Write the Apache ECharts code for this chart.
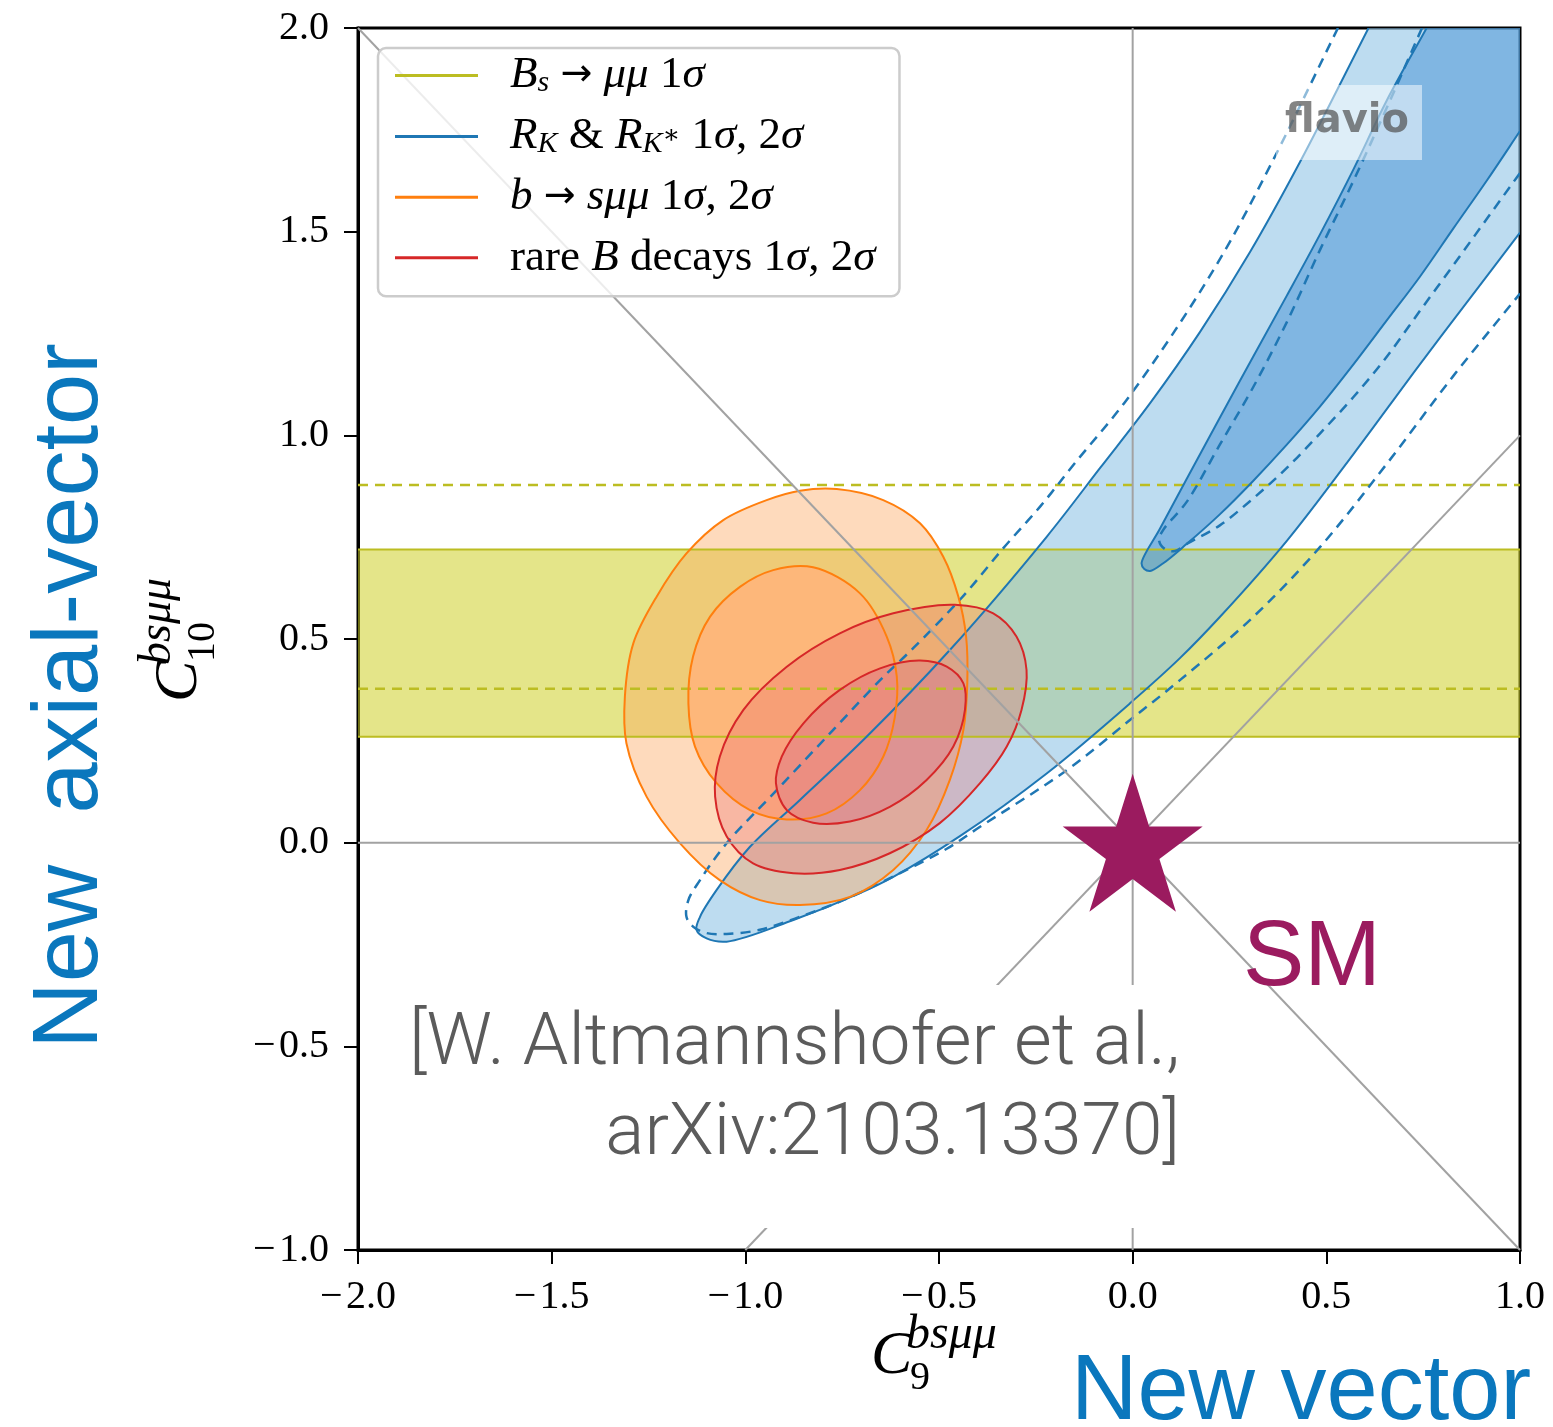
<!DOCTYPE html>
<html>
<head>
<meta charset="utf-8">
<title>C9 – C10 fit</title>
<script src="https://cdn.jsdelivr.net/npm/echarts@6.0.0/dist/echarts.min.js"></script>
<style>
  html, body { margin: 0; padding: 0; background: #ffffff; }
  #chart { width: 1553px; height: 1427px; }
</style>
</head>
<body>
<div id="chart"></div>
<script>
// ---------------- axes ----------------
const xRange = [-2, 1];          // C9
const yRange = [-1, 2];          // C10
const tickStep = 0.5;

// ---------------- B_s -> mu mu, 1 sigma ----------------
const bsBand = [0.26, 0.72];        // filled band
const bsBandOld = [0.378, 0.878];   // dashed band

// ---------------- R_K & R_K* (solid = filled contours, dashed = outline only) ----------------
const rk2Sigma = [
  [0.609, 2.0], [0.432, 1.671], [0.303, 1.450], [0.174, 1.254], [0.045, 1.079],
  [-0.084, 0.920], [-0.222, 0.751], [-0.472, 0.473], [-0.687, 0.260], [-0.859, 0.105],
  [-0.988, -0.010], [-1.074, -0.116], [-1.117, -0.182], [-1.126, -0.214], [-1.100, -0.235],
  [-1.048, -0.243], [-0.876, -0.190], [-0.704, -0.124], [-0.618, -0.084], [-0.446, 0.016],
  [-0.222, 0.170], [-0.007, 0.342], [0.122, 0.453], [0.225, 0.554], [0.398, 0.741],
  [0.570, 0.954], [0.742, 1.175], [0.914, 1.390], [1.0, 1.498]
];
const rk1Sigma = [
  [0.759, 2.0], [0.656, 1.822], [0.570, 1.653], [0.484, 1.494],
  [0.398, 1.343], [0.311, 1.193], [0.225, 1.043], [0.139, 0.892], [0.070, 0.770],
  [0.023, 0.686], [0.030, 0.672], [0.045, 0.667], [0.079, 0.686], [0.139, 0.733],
  [0.225, 0.806], [0.311, 0.888], [0.398, 0.977], [0.484, 1.071], [0.570, 1.174],
  [0.656, 1.282], [0.742, 1.390], [0.828, 1.508], [0.914, 1.625], [1.0, 1.747]
];
const rk2SigmaOld = [
  [0.530, 2.0], [0.360, 1.671], [0.236, 1.450], [0.107, 1.254], [-0.022, 1.079],
  [-0.149, 0.932], [-0.239, 0.825], [-0.334, 0.723], [-0.437, 0.606], [-0.566, 0.478],
  [-0.652, 0.399], [-0.773, 0.277], [-0.919, 0.129], [-1.048, -0.001], [-1.117, -0.092],
  [-1.147, -0.141], [-1.152, -0.182], [-1.135, -0.206], [-1.100, -0.222], [-1.048, -0.224],
  [-0.962, -0.214], [-0.859, -0.182], [-0.747, -0.141], [-0.618, -0.083], [-0.480, -0.015],
  [-0.394, 0.039], [-0.170, 0.178], [-0.007, 0.301], [0.122, 0.399], [0.311, 0.554],
  [0.484, 0.726], [0.656, 0.930], [0.828, 1.146], [1.0, 1.348]
];
const rk1SigmaOld = [
  [0.747, 2.0], [0.656, 1.804], [0.570, 1.625], [0.484, 1.456], [0.398, 1.278],
  [0.311, 1.118], [0.225, 0.977], [0.139, 0.836], [0.079, 0.768], [0.068, 0.743],
  [0.083, 0.721], [0.109, 0.716], [0.139, 0.733], [0.225, 0.779], [0.311, 0.845],
  [0.398, 0.920], [0.484, 1.005], [0.570, 1.094], [0.656, 1.193], [0.742, 1.306],
  [0.828, 1.418], [0.914, 1.531], [1.0, 1.644]
];

// ---------------- b -> s mu mu ----------------
const bsmm2Sigma = [
  [-0.764, 0.868], [-0.644, 0.841], [-0.549, 0.784], [-0.489, 0.702], [-0.450, 0.604],
  [-0.430, 0.506], [-0.427, 0.391], [-0.437, 0.277], [-0.472, 0.154], [-0.532, 0.031],
  [-0.618, -0.067], [-0.730, -0.133], [-0.859, -0.153], [-0.962, -0.141], [-1.066, -0.092],
  [-1.169, -0.001], [-1.255, 0.113], [-1.307, 0.244], [-1.311, 0.358], [-1.289, 0.490],
  [-1.229, 0.604], [-1.152, 0.710], [-1.057, 0.792], [-0.945, 0.841], [-0.859, 0.864]
];
const bsmm1Sigma = [
  [-0.825, 0.676], [-0.704, 0.612], [-0.635, 0.506], [-0.609, 0.408], [-0.614, 0.309],
  [-0.644, 0.211], [-0.704, 0.129], [-0.790, 0.072], [-0.893, 0.057], [-0.988, 0.080],
  [-1.074, 0.146], [-1.130, 0.236], [-1.147, 0.342], [-1.135, 0.457], [-1.091, 0.555],
  [-1.014, 0.628], [-0.928, 0.669]
];

// ---------------- all rare B decays ----------------
const rare2Sigma = [
  [-0.459, 0.584], [-0.360, 0.563], [-0.300, 0.506], [-0.274, 0.424], [-0.287, 0.326],
  [-0.325, 0.236], [-0.394, 0.146], [-0.498, 0.048], [-0.627, -0.026], [-0.756, -0.067],
  [-0.876, -0.075], [-0.980, -0.051], [-1.048, 0.015], [-1.078, 0.113], [-1.066, 0.211],
  [-1.005, 0.326], [-0.893, 0.432], [-0.756, 0.514], [-0.618, 0.563]
];
const rare1Sigma = [
  [-0.549, 0.447], [-0.480, 0.432], [-0.437, 0.391], [-0.433, 0.326], [-0.463, 0.236],
  [-0.532, 0.154], [-0.627, 0.088], [-0.730, 0.052], [-0.825, 0.049], [-0.893, 0.080],
  [-0.921, 0.146], [-0.906, 0.211], [-0.850, 0.293], [-0.756, 0.375], [-0.652, 0.428]
];

// ---------------- Standard Model point and guide lines ----------------
const smPoint = [0, 0];
const refLines = [
  [[-2, 0], [1, 0]],
  [[0, -1], [0, 2]],
  [[-2, 2], [1, -1]],
  [[-1, -1], [1, 1]]
];

// ---------------- styling ----------------
const OLIVE = '#bcbd22', BLUE = '#1f77b4', ORANGE = '#ff7f0e', RED = '#d62728';
const SERIF = '"Liberation Serif", "DejaVu Serif", serif';
const SANS = '"Liberation Sans", Arial, sans-serif';
const SM_COLOR = '#9b1b5f';
const LABEL_BLUE = '#0a77bd';
const DASH = [10, 7];

const fmt = v => (v < 0 ? '\u2212\u200a' : '') + Math.abs(v).toFixed(1);

// centripetal Catmull-Rom curve through pixel points, as SVG path data
function curvePath(p, closed) {
  const n = p.length;
  const at = i => closed ? p[((i % n) + n) % n] : p[Math.max(0, Math.min(n - 1, i))];
  const sq = (a, b) => Math.sqrt(Math.hypot(b[0] - a[0], b[1] - a[1]));
  const f = q => q[0].toFixed(2) + ' ' + q[1].toFixed(2);
  let d = 'M' + f(p[0]);
  const segs = closed ? n : n - 1;
  for (let i = 0; i < segs; i++) {
    const p0 = at(i - 1), p1 = at(i), p2 = at(i + 1), p3 = at(i + 2);
    const d1 = sq(p0, p1), d2 = sq(p1, p2), d3 = sq(p2, p3);
    let c1, c2;
    if (d1 < 1e-6) {
      c1 = [p1[0] + (p2[0] - p1[0]) / 3, p1[1] + (p2[1] - p1[1]) / 3];
    } else {
      const k = 3 * d1 * (d1 + d2), w = 2 * d1 * d1 + 3 * d1 * d2 + d2 * d2;
      c1 = [0, 1].map(j => (d1 * d1 * p2[j] - d2 * d2 * p0[j] + w * p1[j]) / k);
    }
    if (d3 < 1e-6) {
      c2 = [p2[0] + (p1[0] - p2[0]) / 3, p2[1] + (p1[1] - p2[1]) / 3];
    } else {
      const k = 3 * d3 * (d3 + d2), w = 2 * d3 * d3 + 3 * d3 * d2 + d2 * d2;
      c2 = [0, 1].map(j => (d3 * d3 * p1[j] - d2 * d2 * p3[j] + w * p2[j]) / k);
    }
    d += 'C' + f(c1) + ' ' + f(c2) + ' ' + f(p2);
  }
  if (closed) d += 'Z';
  return d;
}

// filled region of a contour (open contours are closed through an axis corner)
function fillSeries(name, pts, fill, z, corner) {
  return {
    type: 'custom', name: name, z: z, silent: true, clip: true,
    data: pts, encode: { x: 0, y: 1 },
    renderItem(params, api) {
      if (params.dataIndex !== 0) return;
      const p = pts.map(d => api.coord(d));
      let d;
      if (corner) {
        const c = api.coord(corner);
        d = curvePath(p, false) + 'L' + c[0].toFixed(2) + ' ' + c[1].toFixed(2) + 'Z';
      } else {
        d = curvePath(p, true);
      }
      return { type: 'path', shape: { pathData: d }, style: { fill: fill, stroke: null } };
    }
  };
}

// outline of a contour
function lineSeries(name, pts, color, closed, dash, width) {
  return {
    type: 'custom', name: name, z: 5, silent: true, clip: true,
    data: pts, encode: { x: 0, y: 1 },
    renderItem(params, api) {
      if (params.dataIndex !== 0) return;
      const p = pts.map(d => api.coord(d));
      return {
        type: 'path', shape: { pathData: curvePath(p, closed) },
        style: { fill: null, stroke: color, lineWidth: width || 2, lineDash: dash || null }
      };
    }
  };
}

const topRight = [xRange[1], yRange[1]];

const series = [
  // B_s -> mu mu band (fill below, edges and dashed band above the contour fills)
  {
    type: 'custom', name: 'Bs', z: 1, silent: true, clip: true,
    data: [[xRange[0], bsBand[0]], [xRange[1], bsBand[1]]],
    renderItem(params, api) {
      if (params.dataIndex !== 0) return;
      const a = api.coord([xRange[0], bsBand[0]]);
      const b = api.coord([xRange[1], bsBand[1]]);
      return { type: 'rect', shape: { x: a[0], y: b[1], width: b[0] - a[0], height: a[1] - b[1] },
               style: { fill: 'rgba(205,208,40,0.55)' } };
    }
  },
  {
    type: 'custom', name: 'Bs', z: 5, silent: true, clip: true,
    data: [[xRange[0], bsBandOld[0]], [xRange[1], bsBandOld[1]]],
    renderItem(params, api) {
      if (params.dataIndex !== 0) return;
      const ln = (y, dashed) => {
        const a = api.coord([xRange[0], y]), b = api.coord([xRange[1], y]);
        return { type: 'line', shape: { x1: a[0], y1: a[1], x2: b[0], y2: b[1] },
                 style: { stroke: OLIVE, lineWidth: dashed ? 2.5 : 2, lineDash: dashed ? DASH : null } };
      };
      return { type: 'group', children: [
        ln(bsBand[0], false), ln(bsBand[1], false), ln(bsBandOld[0], true), ln(bsBandOld[1], true)
      ] };
    }
  },
  // R_K & R_K*
  fillSeries('RK', rk2Sigma, 'rgba(139,194,229,0.57)', 2, topRight),
  fillSeries('RK', rk1Sigma, 'rgba(37,125,205,0.4)', 2, topRight),
  // b -> s mu mu
  fillSeries('bsmm', bsmm2Sigma, 'rgba(253,167,96,0.42)', 3),
  fillSeries('bsmm', bsmm1Sigma, 'rgba(255,180,122,0.85)', 3),
  // all rare B decays
  fillSeries('rare', rare2Sigma, 'rgba(236,112,112,0.33)', 4),
  fillSeries('rare', rare1Sigma, 'rgba(220,120,135,0.45)', 4),
  // outlines
  lineSeries('RK', rk2Sigma, BLUE, false),
  lineSeries('RK', rk1Sigma, BLUE, false),
  lineSeries('RK', rk2SigmaOld, BLUE, false, DASH, 2.5),
  lineSeries('RK', rk1SigmaOld, BLUE, false, DASH, 2.5),
  lineSeries('bsmm', bsmm2Sigma, ORANGE, true),
  lineSeries('bsmm', bsmm1Sigma, ORANGE, true),
  lineSeries('rare', rare2Sigma, RED, true),
  lineSeries('rare', rare1Sigma, RED, true)
];

// guide lines through the SM point
refLines.forEach(seg => series.push({
  type: 'line', data: seg, symbol: 'none', silent: true, z: 6,
  lineStyle: { color: '#a2a2a2', width: 2 }
}));

// SM star
series.push({
  type: 'scatter', data: [smPoint], silent: true, z: 8,
  symbol: 'path://M0,-100L22.45,-30.9L95.11,-30.9L36.33,11.8L58.78,80.9L0,38.2L-58.78,80.9L-36.33,11.8L-95.11,-30.9L-22.45,-30.9Z',
  symbolSize: [140, 138],
  itemStyle: { color: SM_COLOR, opacity: 1 }
});

const legendText = {
  Bs: '{g| }{i|B}{s|s}{n| }{a|\u2192}{n| }{i|\u03bc\u03bc}{n| 1}{i|\u03c3}',
  RK: '{g| }{i|R}{s|K}{n| & }{i|R}{s|K}{t|\u2217}{n| 1}{i|\u03c3}{n|, 2}{i|\u03c3}',
  bsmm: '{g| }{i|b}{n| }{a|\u2192}{n| }{i|s\u03bc\u03bc}{n| 1}{i|\u03c3}{n|, 2}{i|\u03c3}',
  rare: '{g| }{n|rare }{i|B}{n| decays 1}{i|\u03c3}{n|, 2}{i|\u03c3}'
};

const option = {
  animation: false,
  backgroundColor: '#ffffff',
  grid: {
    show: true, left: 358, top: 28, width: 1162, height: 1222,
    borderColor: '#000', borderWidth: 3, backgroundColor: 'transparent'
  },
  xAxis: {
    type: 'value', min: xRange[0], max: xRange[1], interval: tickStep,
    axisLine: { show: true, onZero: false, lineStyle: { color: '#000', width: 3 } },
    axisTick: { show: true, inside: false, length: 14, lineStyle: { color: '#000', width: 2 } },
    axisLabel: { margin: 27, formatter: fmt, fontFamily: SERIF, fontSize: 40, color: '#000' },
    splitLine: { show: false }
  },
  yAxis: {
    type: 'value', min: yRange[0], max: yRange[1], interval: tickStep,
    axisLine: { show: true, onZero: false, lineStyle: { color: '#000', width: 3 } },
    axisTick: { show: true, inside: false, length: 14, lineStyle: { color: '#000', width: 2 } },
    axisLabel: { margin: 29, formatter: fmt, fontFamily: SERIF, fontSize: 40, color: '#000' },
    splitLine: { show: false }
  },
  legend: {
    left: 378, top: 48, orient: 'vertical', z: 10,
    itemWidth: 83, itemHeight: 3, itemGap: 15.4,
    padding: [5, 24, 16, 17],
    backgroundColor: 'rgba(255,255,255,0.8)',
    borderColor: '#cccccc', borderWidth: 2.5, borderRadius: 8,
    selectedMode: false,
    data: [
      { name: 'Bs', icon: 'rect', itemStyle: { color: OLIVE } },
      { name: 'RK', icon: 'rect', itemStyle: { color: BLUE } },
      { name: 'bsmm', icon: 'rect', itemStyle: { color: ORANGE } },
      { name: 'rare', icon: 'rect', itemStyle: { color: RED } }
    ],
    formatter: name => legendText[name],
    textStyle: {
      color: '#000',
      rich: {
        g: { width: 27, fontSize: 10 },
        n: { fontFamily: SERIF, fontSize: 45, lineHeight: 46, color: '#000' },
        i: { fontFamily: SERIF, fontStyle: 'italic', fontSize: 45, lineHeight: 46, color: '#000' },
        a: { fontFamily: '"DejaVu Sans", sans-serif', fontSize: 38, lineHeight: 46, color: '#000' },
        s: { fontFamily: SERIF, fontStyle: 'italic', fontSize: 30, lineHeight: 16, verticalAlign: 'bottom', color: '#000' },
        t: { fontFamily: SERIF, fontSize: 26, lineHeight: 26, verticalAlign: 'middle', color: '#000' }
      }
    }
  },
  graphic: [
    // flavio watermark
    { type: 'rect', z: 6, shape: { x: 1276, y: 85, width: 146, height: 75 }, style: { fill: 'rgba(255,255,255,0.5)' } },
    { type: 'text', z: 6, x: 1347, y: 122,
      style: { text: 'flavio', font: 'bold 40px "DejaVu Sans", sans-serif', fill: 'rgba(80,80,80,0.7)', align: 'center', verticalAlign: 'middle' } },
    // citation
    { type: 'rect', z: 20, shape: { x: 395, y: 985, width: 797, height: 243 }, style: { fill: '#ffffff' } },
    { type: 'text', z: 21, x: 1180, y: 1046,
      style: { text: '[W. Altmannshofer et al.,', font: '300 73px Roboto, "Liberation Sans", sans-serif', fill: '#5b5b5b', align: 'right', verticalAlign: 'middle' } },
    { type: 'text', z: 21, x: 1180, y: 1136,
      style: { text: 'arXiv:2103.13370]', font: '300 73px Roboto, "Liberation Sans", sans-serif', fill: '#5b5b5b', align: 'right', verticalAlign: 'middle' } },
    // SM label
    { type: 'text', z: 21, x: 1243, y: 960,
      style: { text: 'SM', font: '92px ' + SANS, fill: SM_COLOR, align: 'left', verticalAlign: 'middle' } },
    // big axis captions
    { type: 'text', z: 21, x: 1071, y: 1394,
      style: { text: 'New vector', font: '92px ' + SANS, fill: LABEL_BLUE, align: 'left', verticalAlign: 'middle' } },
    { type: 'text', z: 21, x: 72, y: 696, rotation: Math.PI / 2,
      style: { text: 'New  axial-vector', font: '92px ' + SANS, fill: LABEL_BLUE, align: 'center', verticalAlign: 'middle' } },
    // x axis title  C_9^{bs mu mu}
    { type: 'group', z: 21, x: 871, y: 1357, children: [
      { type: 'text', x: 0, y: 0, style: { text: 'C', font: 'italic 62px ' + SERIF, fill: '#000', align: 'left', verticalAlign: 'middle' } },
      { type: 'text', x: 35, y: -22, style: { text: 'bs\u03bc\u03bc', font: 'italic 48px ' + SERIF, fill: '#000', align: 'left', verticalAlign: 'middle' } },
      { type: 'text', x: 39, y: 21, style: { text: '9', font: '40px ' + SERIF, fill: '#000', align: 'left', verticalAlign: 'middle' } }
    ] },
    // y axis title  C_10^{bs mu mu}
    { type: 'group', z: 21, x: 180, y: 702, rotation: Math.PI / 2, children: [
      { type: 'text', x: 0, y: 0, style: { text: 'C', font: 'italic 62px ' + SERIF, fill: '#000', align: 'left', verticalAlign: 'middle' } },
      { type: 'text', x: 37, y: -22, style: { text: 'bs\u03bc\u03bc', font: 'italic 46px ' + SERIF, fill: '#000', align: 'left', verticalAlign: 'middle' } },
      { type: 'text', x: 40, y: 23, style: { text: '10', font: '40px ' + SERIF, fill: '#000', align: 'left', verticalAlign: 'middle' } }
    ] }
  ],
  series: series
};

const chart = echarts.init(document.getElementById('chart'), null, { renderer: 'canvas' });
chart.setOption(option);
</script>
</body>
</html>
